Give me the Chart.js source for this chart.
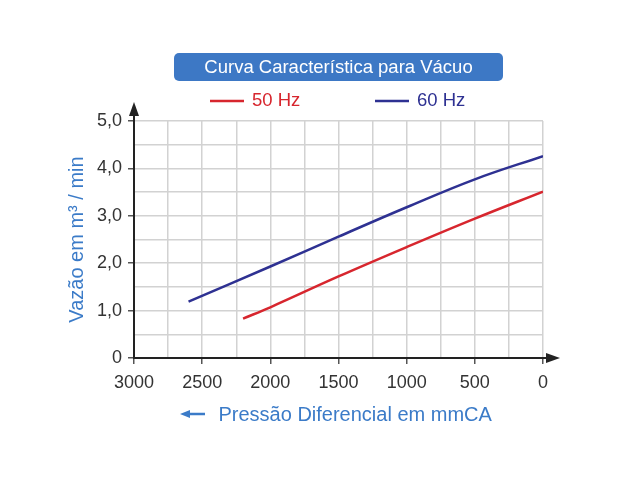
<!DOCTYPE html>
<html>
<head>
<meta charset="utf-8">
<script src="https://cdn.jsdelivr.net/npm/chart.js@4.4.0/dist/chart.umd.min.js"></script>
<style>
  html, body { margin: 0; padding: 0; background: #fff; }
  #wrap { width: 640px; height: 480px; }
</style>
</head>
<body>
<div id="wrap"><canvas id="chart" width="640" height="480"></canvas></div>
<script>
const chartTitle = "Curva Característica para Vácuo";
const xTitle = "Pressão Diferencial em mmCA";
const yTitle = "Vazão em m³ / min";

// pressao diferencial (mmCA) and vazao (m3/min)
const pressure50 = [2200, 2000, 1500, 1000, 500, 0];
const flow50 = [0.83, 1.07, 1.72, 2.34, 2.94, 3.51];
const pressure60 = [2600, 2000, 1500, 1000, 500, 0];
const flow60 = [1.19, 1.93, 2.56, 3.18, 3.77, 4.26];

const seriesLabels = ["50 Hz", "60 Hz"];
const seriesColors = ["#d7262e", "#2e3192"];

const FONT = "'Liberation Sans', Arial, sans-serif";
const tickColor = "#333";
const axisColor = "#222";
const blueText = "#3b7bc8";

function toPoints(xs, ys) {
  return xs.map((x, i) => ({ x: x, y: ys[i] }));
}

// title box, legend, axis arrows and the little arrow before the x title
const decorations = {
  id: "decorations",
  afterDraw(chart) {
    const ctx = chart.ctx;
    const area = chart.chartArea;
    ctx.save();

    // title box
    ctx.fillStyle = "#3d78c5";
    ctx.beginPath();
    ctx.roundRect(174, 53, 329, 28, 5);
    ctx.fill();
    ctx.fillStyle = "#fff";
    ctx.font = "18.5px " + FONT;
    ctx.textAlign = "center";
    ctx.textBaseline = "middle";
    ctx.fillText(chartTitle, 338.5, 67.5);

    // legend
    const legendX = [210, 375];
    ctx.font = "18.5px " + FONT;
    ctx.textAlign = "left";
    chart.data.datasets.forEach((ds, i) => {
      ctx.strokeStyle = ds.borderColor;
      ctx.lineWidth = 2.5;
      ctx.beginPath();
      ctx.moveTo(legendX[i], 101);
      ctx.lineTo(legendX[i] + 34, 101);
      ctx.stroke();
      ctx.fillStyle = ds.borderColor;
      ctx.fillText(ds.label, legendX[i] + 42, 101);
    });

    // axis extensions with arrows
    ctx.strokeStyle = axisColor;
    ctx.fillStyle = axisColor;
    ctx.lineWidth = 2;
    ctx.beginPath();
    ctx.moveTo(area.left, area.top);
    ctx.lineTo(area.left, 110);
    ctx.moveTo(area.right, area.bottom);
    ctx.lineTo(550, area.bottom);
    ctx.stroke();
    ctx.beginPath();
    ctx.moveTo(area.left, 102);
    ctx.lineTo(area.left - 5, 116);
    ctx.lineTo(area.left + 5, 116);
    ctx.closePath();
    ctx.fill();
    ctx.beginPath();
    ctx.moveTo(560, area.bottom);
    ctx.lineTo(546, area.bottom - 5);
    ctx.lineTo(546, area.bottom + 5);
    ctx.closePath();
    ctx.fill();

    // arrow in front of the x title
    ctx.strokeStyle = blueText;
    ctx.fillStyle = blueText;
    ctx.lineWidth = 2.5;
    ctx.beginPath();
    ctx.moveTo(188, 414);
    ctx.lineTo(205, 414);
    ctx.stroke();
    ctx.beginPath();
    ctx.moveTo(180, 414);
    ctx.lineTo(190, 410);
    ctx.lineTo(190, 418);
    ctx.closePath();
    ctx.fill();

    ctx.restore();
  }
};

new Chart(document.getElementById("chart"), {
  type: "line",
  data: {
    datasets: [
      {
        label: seriesLabels[0],
        data: toPoints(pressure50, flow50),
        borderColor: seriesColors[0],
        borderWidth: 2.5,
        pointRadius: 0,
        tension: 0.4,
        fill: false
      },
      {
        label: seriesLabels[1],
        data: toPoints(pressure60, flow60),
        borderColor: seriesColors[1],
        borderWidth: 2.5,
        pointRadius: 0,
        tension: 0.4,
        fill: false
      }
    ]
  },
  options: {
    responsive: false,
    devicePixelRatio: 1,
    animation: false,
    layout: { padding: { left: 0, top: 121, right: 97, bottom: 30 } },
    plugins: {
      legend: { display: false },
      title: { display: false },
      tooltip: { enabled: false }
    },
    scales: {
      x: {
        type: "linear",
        reverse: true,
        min: 0,
        max: 3000,
        afterFit(scale) { scale.height = 92; },
        ticks: {
          stepSize: 250,
          autoSkip: false,
          maxRotation: 0,
          padding: 8,
          color: tickColor,
          font: { family: FONT, size: 18 },
          callback: v => (v % 500 === 0 ? String(v) : "")
        },
        grid: {
          color: "#d2d2d2",
          lineWidth: 1.5,
          tickLength: 6,
          tickColor: c => (c.tick && c.tick.value % 500 === 0 ? "#555" : "rgba(0,0,0,0)"),
          tickWidth: 1.5
        },
        border: { color: axisColor, width: 2 },
        title: {
          display: true,
          text: "      " + xTitle,
          color: blueText,
          font: { family: FONT, size: 20 },
          padding: { top: 0, bottom: 23 }
        }
      },
      y: {
        min: 0,
        max: 5,
        afterFit(scale) { scale.width = 134; },
        ticks: {
          stepSize: 0.5,
          autoSkip: false,
          padding: 6,
          color: tickColor,
          font: { family: FONT, size: 18 },
          callback: v => {
            if (!Number.isInteger(v)) return "";
            return v === 0 ? "0" : v.toFixed(1).replace(".", ",");
          }
        },
        grid: {
          color: "#d2d2d2",
          lineWidth: 1.5,
          tickLength: 6,
          tickColor: c => (c.tick && Number.isInteger(c.tick.value) ? "#555" : "rgba(0,0,0,0)"),
          tickWidth: 1.5
        },
        border: { color: axisColor, width: 2 },
        title: {
          display: true,
          text: yTitle,
          color: blueText,
          font: { family: FONT, size: 20 },
          padding: { top: 65, bottom: 0 }
        }
      }
    }
  },
  plugins: [decorations]
});
</script>
</body>
</html>
